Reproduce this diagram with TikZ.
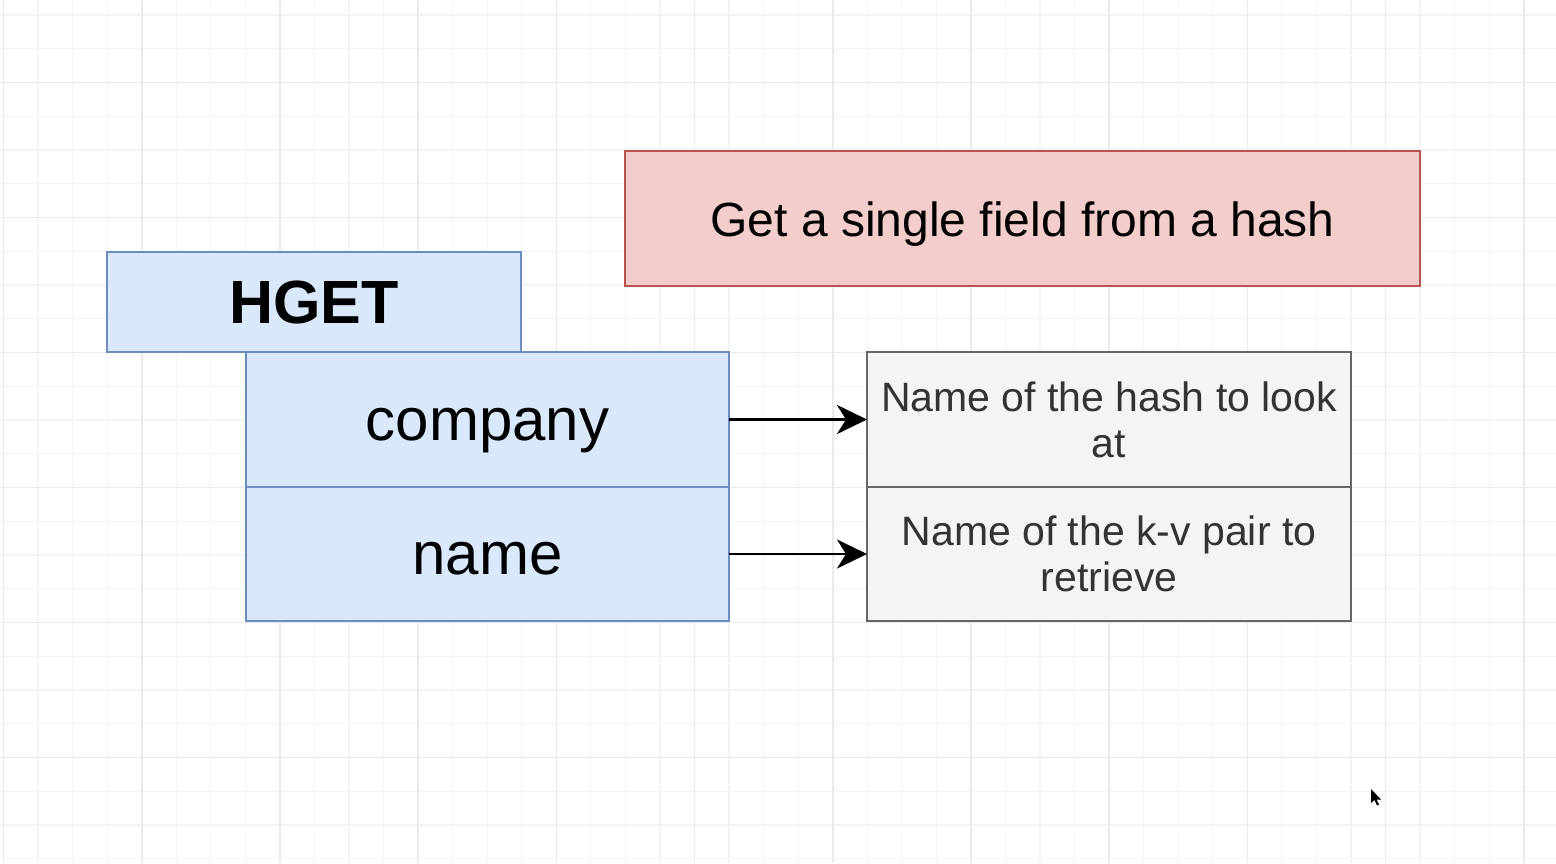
\documentclass[tikz,border=0pt]{standalone}
\usepackage{fontspec}
\setmainfont{Liberation Sans}
\usetikzlibrary{arrows.meta}
\definecolor{gridminor}{RGB}{244,244,244}
\definecolor{gridmajor}{RGB}{234,234,234}
\definecolor{bluefill}{RGB}{218,232,252}
\definecolor{bluedraw}{RGB}{108,142,191}
\definecolor{redfill}{RGB}{243,205,204}
\definecolor{reddraw}{RGB}{184,84,80}
\definecolor{grayfill}{RGB}{244,244,244}
\definecolor{graydraw}{RGB}{102,102,102}
\definecolor{graytext}{RGB}{51,51,51}
\tikzset{
  gminor/.style={draw=gridminor, line width=1.2pt},
  gmajor/.style={draw=gridmajor, line width=1.6pt},
  box/.style={rectangle, anchor=north west, inner sep=0pt, outer sep=0pt, line width=2.6pt, align=center},
  bluebox/.style={box, draw=bluedraw, fill=bluefill, text=black},
  redbox/.style={box, draw=reddraw, fill=redfill, text=black},
  graybox/.style={box, draw=graydraw, fill=grayfill, text=graytext},
  conn/.style={draw=black, line width=2.8pt, -{Stealth[length=30pt, width=29pt, inset=9pt]}},
  bigfont/.style={font=\fontsize{60}{72}\selectfont, text height=56.8pt, text depth=15.2pt},
  hugebold/.style={font=\fontsize{61}{72}\selectfont\bfseries, text height=57.7pt, text depth=15.5pt},
  midfont/.style={font=\fontsize{48}{58}\selectfont, text height=47pt, text depth=10.6pt},
  smallfont/.style={font=\fontsize{41}{46}\selectfont},
}
\begin{document}
\begin{tikzpicture}[x=1pt, y=-1pt]
\useasboundingbox (0,0) rectangle (1556,863);
\fill[white] (0,0) rectangle (1556,863);
% grid
\foreach \i in {0,...,44} { \draw[gminor] ({3.5+34.55*\i},0) -- ({3.5+34.55*\i},863); }
\foreach \k in {-2,...,23} { \draw[gminor] (0,{82.5+33.75*\k}) -- (1556,{82.5+33.75*\k}); }
\foreach \i in {0,4,...,44} { \draw[gmajor] ({3.5+34.55*\i},0) -- ({3.5+34.55*\i},863); }
\foreach \k in {0,4,...,20} { \draw[gmajor] (0,{82.5+33.75*\k}) -- (1556,{82.5+33.75*\k}); }
% boxes
\node[redbox, midfont, minimum width=795pt, minimum height=135pt] (desc) at (625,151) {Get a single field from a hash};
\node[bluebox, hugebold, minimum width=414pt, minimum height=100pt] (hget) at (107,252) {HGET};
\node[bluebox, bigfont, minimum width=483pt, minimum height=135pt] (company) at (246,352) {company};
\node[bluebox, bigfont, minimum width=483pt, minimum height=134pt] (name) at (246,487) {name};
\node[graybox, smallfont, minimum width=484pt, minimum height=135pt] (hashdesc) at (867,352) {Name of the hash to look\\at};
\node[graybox, smallfont, minimum width=484pt, minimum height=134pt] (kvdesc) at (867,487) {Name of the k-v pair to\\retrieve};
% connectors
\draw[conn] (company.east) -- (hashdesc.west);
\draw[conn] (name.east) -- (kvdesc.west);
% mouse pointer
\fill[black] (1371,789) -- (1371,803) -- (1374.5,800) -- (1377,805.5) -- (1379,804.5) -- (1376.5,799.5) -- (1381,799.5) -- cycle;
\end{tikzpicture}
\end{document}
